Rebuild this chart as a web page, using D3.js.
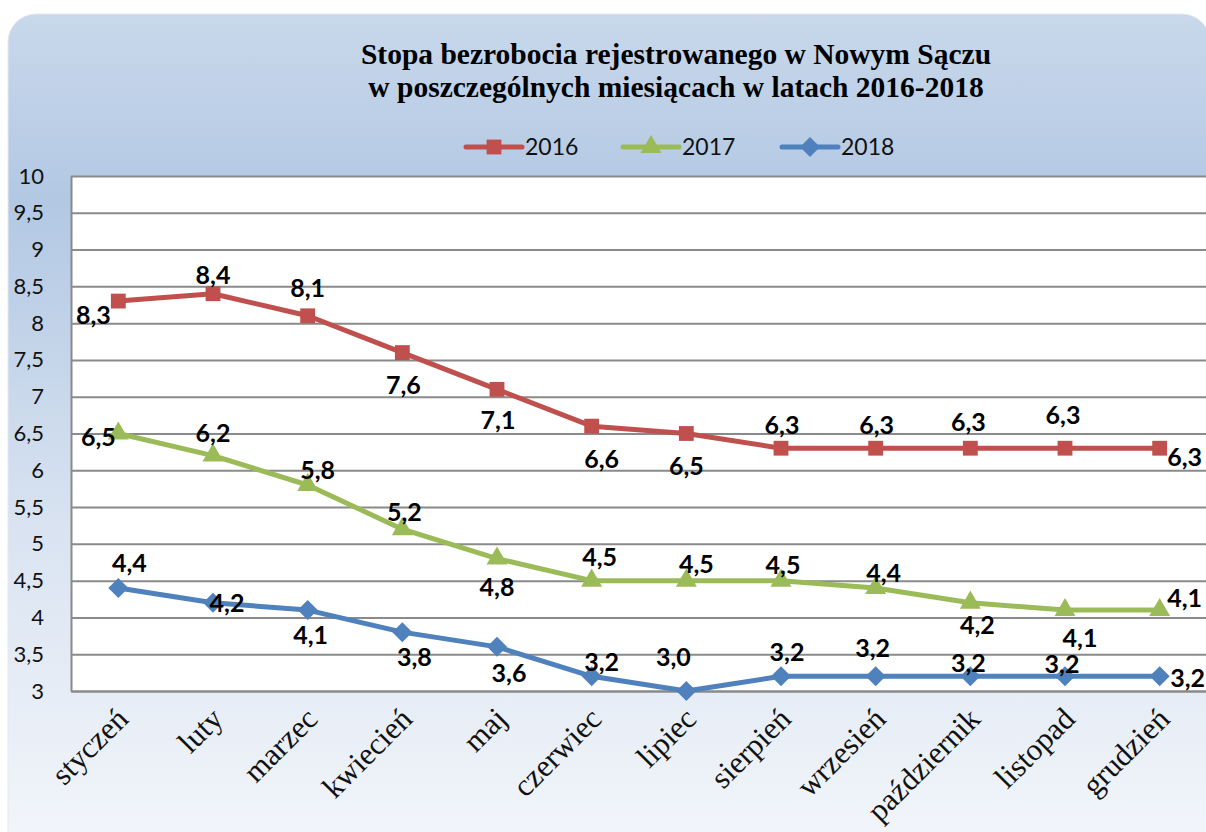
<!DOCTYPE html>
<html lang="pl">
<head>
<meta charset="UTF-8">
<title>Stopa bezrobocia</title>
<style>
  html, body { margin: 0; padding: 0; background: #fff; }
  svg { display: block; }
</style>
</head>
<body>
<div id="main"></div>
<script src="https://cdn.jsdelivr.net/npm/d3@7"></script>
<script>
// --- data ---
const months = ['styczeń','luty','marzec','kwiecień','maj','czerwiec','lipiec','sierpień','wrzesień','październik','listopad','grudzień'];
const years = ['2016','2017','2018'];
const values2016 = [8.3, 8.4, 8.1, 7.6, 7.1, 6.6, 6.5, 6.3, 6.3, 6.3, 6.3, 6.3];
const values2017 = [6.5, 6.2, 5.8, 5.2, 4.8, 4.5, 4.5, 4.5, 4.4, 4.2, 4.1, 4.1];
const values2018 = [4.4, 4.2, 4.1, 3.8, 3.6, 3.2, 3.0, 3.2, 3.2, 3.2, 3.2, 3.2];
const yTicks = [3, 3.5, 4, 4.5, 5, 5.5, 6, 6.5, 7, 7.5, 8, 8.5, 9, 9.5, 10];

// label centre relative to its marker (excel's own placement), px
const shift2016 = [[-25,14],[0,-19],[0,-28],[1,32],[1,31],[10,33],[0,32],[1,-23],[1,-23],[-2,-26],[-2,-33],[25,9]];
const shift2017 = [[-20,3],[0,-23],[10,-15],[2,-17],[0,28],[8,-24],[10,-17],[2,-16],[8,-15],[7,22],[15,28],[25,-12]];
const shift2018 = [[11,-25],[14,0],[3,25],[12,25],[12,26],[10,-14],[-13,-34],[6,-24],[-3,-28],[-2,-13],[-3,-12],[28,2]];

const width = 1206, height = 832;
const margin = {left: 71, right: -1, top: 176, bottom: 141};

const svg = d3.select('#main').append('svg')
  .attr('width', width).attr('height', height)
  .attr('viewBox', `0 0 ${width} ${height}`);

// background panel gradient
const defs = svg.append('defs');
const grad = defs.append('linearGradient').attr('id', 'bg').attr('x1', 0).attr('y1', 0).attr('x2', 0).attr('y2', 1);
grad.append('stop').attr('offset', '0%').attr('stop-color', '#c9d8eb');
grad.append('stop').attr('offset', '22%').attr('stop-color', '#b2c8e3');
grad.append('stop').attr('offset', '60%').attr('stop-color', '#d9e3f1');
grad.append('stop').attr('offset', '100%').attr('stop-color', '#f4f7fb');

svg.append('rect')
  .attr('x', 8).attr('y', 14)
  .attr('width', 1202).attr('height', height + 20)
  .attr('rx', 28).attr('ry', 28)
  .attr('fill', 'url(#bg)')
  .attr('stroke', '#e4e9f0').attr('stroke-width', 1);

// scales
const x = d3.scaleBand().domain(months).range([margin.left, width - margin.right]);
const y = d3.scaleLinear().domain([3, 10]).range([height - margin.bottom, margin.top]);
const cx = m => x(m) + x.bandwidth() / 2;
const plotW = width - margin.right - margin.left;

// plot area
svg.append('rect')
  .attr('x', margin.left).attr('y', margin.top)
  .attr('width', plotW).attr('height', y(3) - y(10))
  .attr('fill', '#fff');

// grid
svg.append('g')
  .attr('transform', `translate(${margin.left},0)`)
  .call(d3.axisLeft(y).tickValues(yTicks).tickSize(-plotW).tickFormat(''))
  .call(g => g.select('.domain').remove())
  .selectAll('line').attr('stroke', '#8a8a8a').attr('stroke-width', 2);

// y axis labels
svg.append('g')
  .attr('transform', `translate(${margin.left},0)`)
  .call(d3.axisLeft(y).tickValues(yTicks).tickSize(0).tickPadding(27)
    .tickFormat(d => String(d).replace('.', ',')))
  .call(g => g.select('.domain').attr('stroke', '#8a8a8a').attr('stroke-width', 2))
  .selectAll('text')
  .attr('font-family', 'Lato, "Open Sans", sans-serif')
  .attr('font-size', 22).attr('fill', '#111');

// x axis labels
svg.append('g')
  .attr('transform', `translate(0,${y(3)})`)
  .call(d3.axisBottom(x).tickSize(0).tickFormat(d => d))
  .call(g => g.select('.domain').attr('stroke', '#8a8a8a').attr('stroke-width', 2))
  .selectAll('text')
  .attr('font-family', '"Liberation Serif", "DejaVu Serif", serif')
  .attr('font-size', 31).attr('fill', '#111')
  .attr('text-anchor', 'end')
  .attr('transform', 'translate(4,22) rotate(-45)')
  .attr('dy', '0.35em').attr('x', 0).attr('y', 0);

// title
const title = svg.append('text')
  .attr('text-anchor', 'middle')
  .attr('font-family', '"Liberation Serif", "Times New Roman", serif')
  .attr('font-weight', 'bold').attr('font-size', 29.5).attr('fill', '#000');
title.append('tspan').attr('x', 676).attr('y', 64).text('Stopa bezrobocia rejestrowanego w Nowym Sączu');
title.append('tspan').attr('x', 676).attr('y', 97).text('w poszczególnych miesiącach w latach 2016-2018');

// series
const diamond = {draw(ctx, size) { const r = Math.sqrt(size / 2); ctx.moveTo(0, -r); ctx.lineTo(r, 0); ctx.lineTo(0, r); ctx.lineTo(-r, 0); ctx.closePath(); }};
const series = [
  {name: years[0], values: values2016, shift: shift2016, color: '#c0504d', symbol: d3.symbolSquare, size: 220},
  {name: years[1], values: values2017, shift: shift2017, color: '#9bbb59', symbol: d3.symbolTriangle, size: 190},
  {name: years[2], values: values2018, shift: shift2018, color: '#4f81bd', symbol: diamond, size: 200}
];

const line = d3.line().x((d, i) => cx(months[i])).y(d => y(d));

series.forEach(s => {
  svg.append('path')
    .datum(s.values)
    .attr('d', line)
    .attr('fill', 'none')
    .attr('stroke', s.color)
    .attr('stroke-width', 5)
    .attr('stroke-linejoin', 'round');

  svg.append('g').selectAll('path')
    .data(s.values)
    .join('path')
    .attr('transform', (d, i) => `translate(${cx(months[i])},${y(d)})`)
    .attr('d', d3.symbol(s.symbol, s.size))
    .attr('fill', s.color);
});

// data labels on top of all lines
series.forEach(s => {
  svg.append('g').selectAll('text')
    .data(s.values)
    .join('text')
    .attr('x', (d, i) => cx(months[i]) + s.shift[i][0])
    .attr('y', (d, i) => y(d) + s.shift[i][1])
    .attr('dy', '0.36em')
    .attr('text-anchor', 'middle')
    .attr('font-family', 'Lato, "Open Sans", sans-serif')
    .attr('font-weight', 'bold').attr('font-size', 25).attr('fill', '#000')
    .text(d => d.toFixed(1).replace('.', ','));
});

// legend
const legendX = [466, 623, 782];
const legend = svg.append('g');
series.forEach((s, i) => {
  const g = legend.append('g').attr('transform', `translate(${legendX[i]},147)`);
  g.append('line').attr('x1', 0).attr('x2', 56).attr('stroke', s.color).attr('stroke-width', 5).attr('stroke-linecap', 'round');
  g.append('path').attr('transform', 'translate(28,0)').attr('d', d3.symbol(s.symbol, s.size)).attr('fill', s.color);
  g.append('text').attr('x', 59).attr('y', 8)
    .attr('font-family', 'Lato, "Open Sans", sans-serif')
    .attr('font-size', 23).attr('fill', '#111')
    .text(s.name);
});
</script>
</body>
</html>
